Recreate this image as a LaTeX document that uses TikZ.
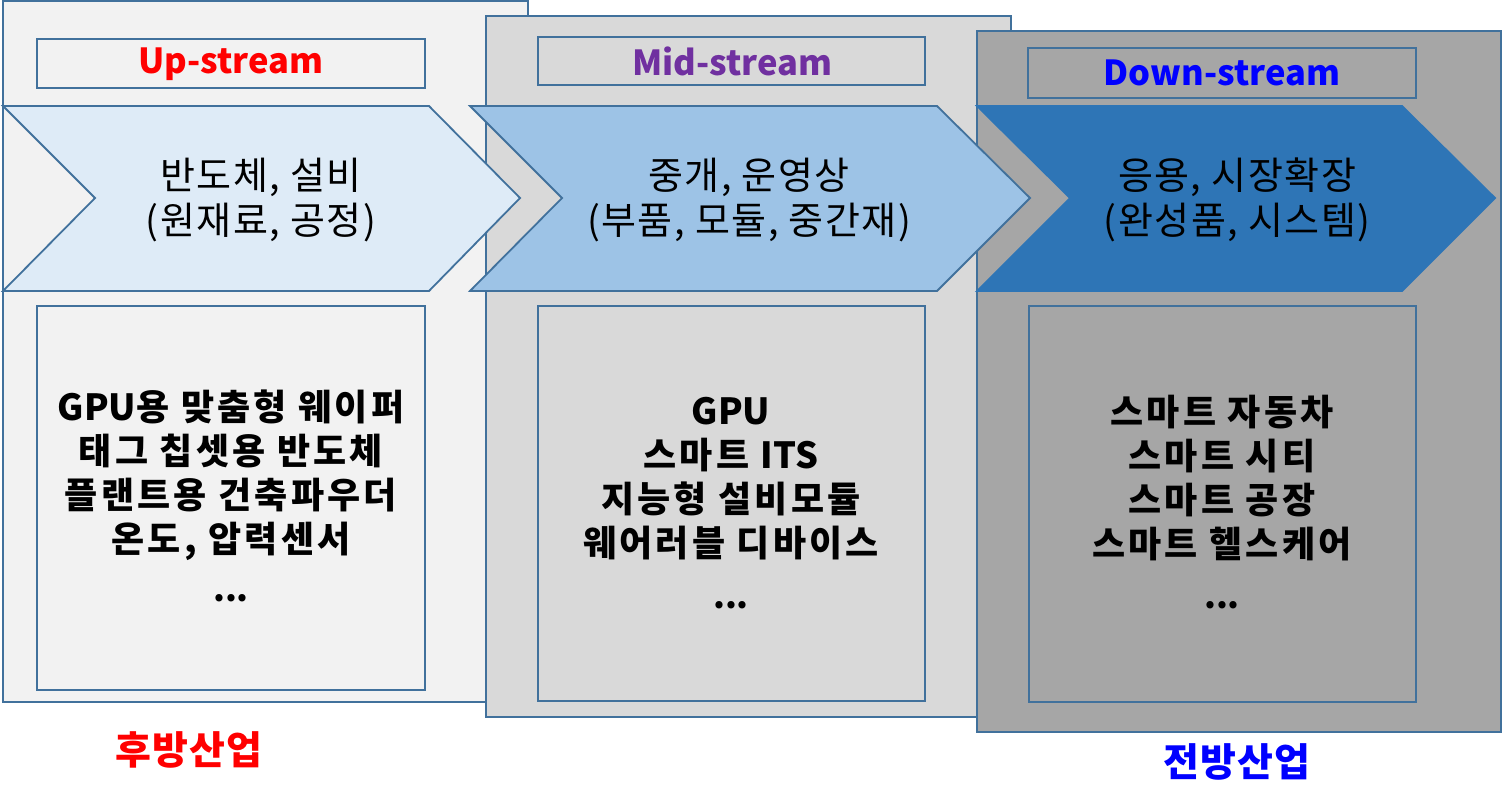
\documentclass[tikz,border=0pt]{standalone}
\usepackage{fontspec}
\setmainfont{Noto Sans CJK KR}
\newcommand{\latn}[1]{{\addfontfeature{LetterSpace=0}#1}}
\definecolor{edge}{HTML}{41719C}
\definecolor{pone}{HTML}{F2F2F2}
\definecolor{ptwo}{HTML}{D9D9D9}
\definecolor{pthree}{HTML}{A6A6A6}
\definecolor{cone}{HTML}{DEEBF7}
\definecolor{ctwo}{HTML}{9DC3E6}
\definecolor{cthree}{HTML}{2E75B6}
\definecolor{upred}{HTML}{FF0000}
\definecolor{midpurple}{HTML}{7030A0}
\definecolor{downblue}{HTML}{0000FF}
\begin{document}
\begin{tikzpicture}[x=1pt,y=-1pt,
  outl/.style={draw=edge,line width=1.8pt,line join=miter},
  titletext/.style={font=\fontsize{34.5}{40}\selectfont\bfseries},
  chevtext/.style={align=center,font=\fontsize{38}{45}\selectfont\addfontfeature{LetterSpace=4}},
  itemtext/.style={align=center,font=\fontsize{36}{44}\selectfont\bfseries\addfontfeature{LetterSpace=9}},
  dotstext/.style={font=\fontsize{34}{40}\selectfont\bfseries},
  sidetext/.style={font=\fontsize{39}{42}\selectfont\bfseries\addfontfeature{LetterSpace=3}}]
\useasboundingbox (0,0) rectangle (1503,793);
\fill[white] (0,0) rectangle (1503,793);
% panels
\path[outl,fill=pone] (3,1) rectangle (528,702);
\path[outl,fill=ptwo] (486,16) rectangle (1011,717);
\path[outl,fill=pthree] (977,31) rectangle (1501,732);
% chevrons
\path[outl,fill=cone] (3,106) -- (429,106) -- (520,198) -- (429,291) -- (3,291) -- (95,198) -- cycle;
\path[outl,fill=ctwo] (470,106) -- (937,106) -- (1030,198) -- (937,291) -- (470,291) -- (562,198) -- cycle;
\path[draw=cthree,line width=1.8pt,fill=cthree] (977,106) -- (1402,106) -- (1495,198) -- (1402,291) -- (977,291) -- (1070,198) -- cycle;
% title boxes
\path[outl] (37,39) rectangle (425,88);
\path[outl] (538,37) rectangle (925,85);
\path[outl] (1028,48) rectangle (1416,98);
% content boxes
\path[outl] (37,306) rectangle (425,690);
\path[outl] (538,306) rectangle (925,701);
\path[outl] (1029,306) rectangle (1416,702);
% titles
\node[titletext,text=upred] (t1) at (231,64) {Up-stream};
\node[titletext,text=midpurple] (t2) at (732,61) {Mid-stream};
\node[titletext,text=downblue] (t3) at (1222,73) {Down-stream};
% chevron texts
\node[chevtext] (c1) at (261,200) {반도체, 설비\\(원재료, 공정)};
\node[chevtext] (c2) at (749,200) {중개, 운영상\\(부품, 모듈, 중간재)};
\node[chevtext] (c3) at (1237,200) {응용, 시장확장\\(완성품, 시스템)};
% content texts
\node[itemtext] (i1) at (231,475) {\latn{GPU}용 맞춤형 웨이퍼\\태그 칩셋용 반도체\\플랜트용 건축파우더\\온도, 압력센서};
\node[dotstext] (d1) at (231,598) {...};
\node[itemtext] (i2) at (731,479) {\latn{GPU}\\스마트 \latn{ITS}\\지능형 설비모듈\\웨어러블 디바이스};
\node[dotstext] (d2) at (731,605) {...};
\node[itemtext] (i3) at (1222,478) {스마트 자동차\\스마트 시티\\스마트 공장\\스마트 헬스케어};
\node[dotstext] (d3) at (1222,605) {...};
% side labels
\node[sidetext,text=upred] (s1) at (189,750) {후방산업};
\node[sidetext,text=downblue] (s2) at (1237,762) {전방산업};
\end{tikzpicture}
\end{document}
